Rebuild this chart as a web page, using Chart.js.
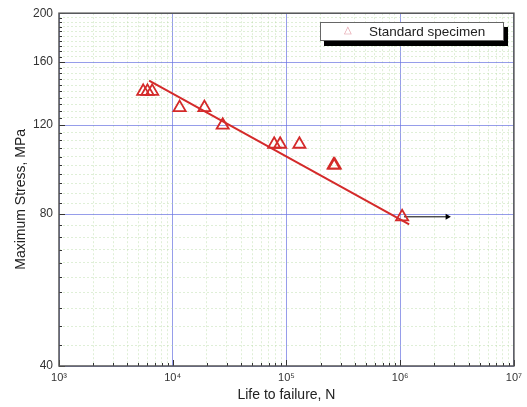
<!DOCTYPE html>
<html>
<head>
<meta charset="utf-8">
<script src="https://cdn.jsdelivr.net/npm/chart.js@4.4.1/dist/chart.umd.min.js"></script>
<style>
    html, body { margin: 0; padding: 0; background: #fff; }
    #wrap { position: relative; width: 527px; height: 407px; }
    #legend {
        position: absolute; left: 320px; top: 22px; width: 182px; height: 17px;
        border: 1px solid #666; background: #fff; box-shadow: 4px 5px 0 #000;
        font: 13.5px "Liberation Sans", Arial, sans-serif; color: #222;
    }
    #legend .mark { position: absolute; left: 23px; top: 1px; font-size: 10px; color: #e39aa4; }
    #legend .txt { position: absolute; left: 48px; top: 0px; line-height: 17px; }
</style>
</head>
<body>
<div id="wrap">
    <canvas id="snChart" width="527" height="407"></canvas>
    <div id="legend"><span class="mark">&#9651;</span><span class="txt">Standard specimen</span></div>
</div>
<script>
// test data
const lifeCycles = [5500, 6000, 6600, 11500, 19000, 27500, 78000, 88000, 130000, 260000, 266000, 1040000];
const maxStress = [140, 140, 140, 130, 130, 120, 110, 110, 110, 100, 100, 79];

// fitted S-N line
const fitLife = [6200, 1200000];
const fitStress = [147, 76.3];

// run-out arrow
const runoutLife = [1080000, 2600000];
const runoutStress = [79, 79];

// axis ticks
const xMajor = [1e3, 1e4, 1e5, 1e6, 1e7];
const xTickLabels = ['10\u00b3', '10\u2074', '10\u2075', '10\u2076', '10\u2077'];
const yMajor = [40, 80, 120, 160, 200];
const yTickLabels = ['40', '80', '120', '160', '200'];
const yMinorStep = 4;

const xTicks = [];
for (let d = 0; d < xMajor.length - 1; d++) {
    for (let m = 1; m < 10; m++) xTicks.push(xMajor[d] * m);
}
xTicks.push(xMajor[xMajor.length - 1]);

const yTicks = [];
for (let v = yMajor[0]; v <= yMajor[yMajor.length - 1]; v += yMinorStep) yTicks.push(v);

const majorGrid = 'rgba(105,115,225,0.7)';
const minorGrid = 'rgba(175,215,155,0.4)';
const red = '#d42a2a';

function isMajor(list, v) {
    return list.some(m => Math.abs(m - v) / m < 1e-9);
}

// frame and inward tick marks
const frameTicks = {
    id: 'frameTicks',
    afterDraw(chart) {
        const {ctx, chartArea: a, scales} = chart;
        ctx.save();
        ctx.strokeStyle = '#333';
        ctx.lineWidth = 1;
        ctx.beginPath();
        scales.x.ticks.forEach(t => {
            const px = Math.round(scales.x.getPixelForValue(t.value)) + 0.5;
            const len = isMajor(xMajor, t.value) ? 6 : 3;
            ctx.moveTo(px, a.bottom);
            ctx.lineTo(px, a.bottom - len);
        });
        scales.y.ticks.forEach(t => {
            const py = Math.round(scales.y.getPixelForValue(t.value)) + 0.5;
            const len = isMajor(yMajor, t.value) ? 6 : 3;
            ctx.moveTo(a.left, py);
            ctx.lineTo(a.left + len, py);
        });
        ctx.stroke();
        ctx.strokeStyle = '#555';
        ctx.lineWidth = 1.5;
        ctx.strokeRect(a.left, a.top, a.right - a.left, a.bottom - a.top);
        ctx.restore();
    }
};

const ctx = document.getElementById('snChart').getContext('2d');
const snChart = new Chart(ctx, {
    type: 'scatter',
    data: {
        datasets: [
            {
                label: 'Fit',
                data: fitLife.map((x, i) => ({x: x, y: fitStress[i]})),
                showLine: true,
                borderColor: red,
                borderWidth: 2,
                pointRadius: 0
            },
            {
                label: 'Standard specimen',
                data: lifeCycles.map((x, i) => ({x: x, y: maxStress[i]})),
                pointStyle: 'triangle',
                pointRadius: 7,
                pointBorderWidth: 1.8,
                borderColor: red,
                backgroundColor: 'rgba(0,0,0,0)'
            },
            {
                label: 'Run-out',
                data: runoutLife.map((x, i) => ({x: x, y: runoutStress[i]})),
                showLine: true,
                borderColor: '#000',
                borderWidth: 1,
                backgroundColor: '#000',
                pointStyle: 'triangle',
                pointRotation: 90,
                pointRadius: [0, 3.5],
                pointBorderWidth: 0
            }
        ]
    },
    options: {
        responsive: false,
        animation: false,
        layout: { padding: { left: 0, top: 12, right: 12, bottom: 0 } },
        plugins: { legend: { display: false }, tooltip: { enabled: false } },
        scales: {
            x: {
                type: 'logarithmic',
                min: xMajor[0],
                max: xMajor[xMajor.length - 1],
                afterBuildTicks: scale => { scale.ticks = xTicks.map(v => ({value: v})); },
                afterFit: scale => { scale.height = 41; },
                ticks: {
                    autoSkip: false,
                    maxRotation: 0,
                    minRotation: 0,
                    padding: 5,
                    color: '#333',
                    font: { family: '"Liberation Sans", Arial, sans-serif', size: 11 },
                    callback: v => {
                        const i = xMajor.findIndex(m => Math.abs(m - v) / m < 1e-9);
                        return i >= 0 ? xTickLabels[i] : '';
                    }
                },
                grid: {
                    drawTicks: false,
                    color: c => isMajor(xMajor, c.tick.value) ? majorGrid : minorGrid,
                    lineWidth: 1
                },
                border: { display: false, dash: c => isMajor(xMajor, c.tick.value) ? [] : [2, 2] },
                title: {
                    display: true,
                    text: 'Life to failure, N',
                    color: '#222',
                    padding: { top: 0, bottom: 3 },
                    font: { family: '"Liberation Sans", Arial, sans-serif', size: 14 }
                }
            },
            y: {
                type: 'logarithmic',
                min: yMajor[0],
                max: yMajor[yMajor.length - 1],
                afterBuildTicks: scale => { scale.ticks = yTicks.map(v => ({value: v})); },
                afterFit: scale => { scale.width = 59; },
                ticks: {
                    autoSkip: false,
                    padding: 6,
                    color: '#333',
                    font: { family: '"Liberation Sans", Arial, sans-serif', size: 12 },
                    callback: v => {
                        const i = yMajor.findIndex(m => Math.abs(m - v) / m < 1e-9);
                        return i >= 0 ? yTickLabels[i] : '';
                    }
                },
                grid: {
                    drawTicks: false,
                    color: c => isMajor(yMajor, c.tick.value) ? majorGrid : minorGrid,
                    lineWidth: 1
                },
                border: { display: false, dash: c => isMajor(yMajor, c.tick.value) ? [] : [2, 2] },
                title: {
                    display: true,
                    text: 'Maximum Stress, MPa\u00a0\u00a0\u00a0\u00a0\u00a0',
                    color: '#222',
                    padding: { top: 13, bottom: 0 },
                    font: { family: '"Liberation Sans", Arial, sans-serif', size: 14 }
                }
            }
        }
    },
    plugins: [frameTicks]
});
</script>
</body>
</html>
